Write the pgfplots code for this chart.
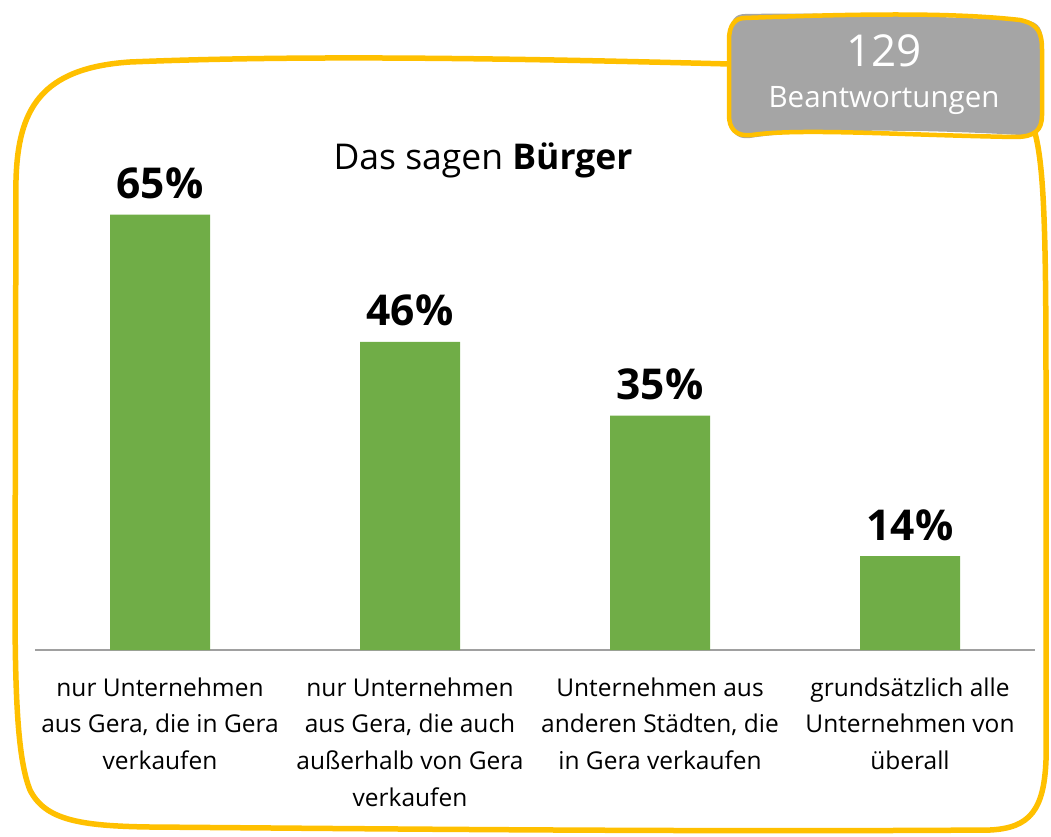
\documentclass[border=0pt]{standalone}
\usepackage{fontspec}
\setmainfont{Open Sans}
\usepackage{pgfplots}
\pgfplotsset{compat=1.18}
\definecolor{bargreen}{HTML}{70AD47}
\definecolor{frameyellow}{HTML}{FFC000}
\definecolor{boxgrey}{HTML}{A5A5A5}
\definecolor{axisgrey}{HTML}{A0A0A0}
\begin{document}
\begin{tikzpicture}[x=1pt,y=1pt]
\path[use as bounding box] (0,0) rectangle (1051,-837);
% hand-drawn frame
\draw[frameyellow, line width=5.5pt, line cap=round, line join=round]
  (730,-64) .. controls (500,-58) and (300,-55) .. (130,-62)
  .. controls (40,-68) and (18,-110) .. (16,-180)
  -- (15,-600) .. controls (15,-700) and (18,-760) .. (30,-790)
  .. controls (45,-820) and (80,-826) .. (150,-827)
  .. controls (400,-829) and (700,-832) .. (990,-830)
  .. controls (1030,-828) and (1044,-810) .. (1046,-760)
  -- (1046,-400) .. controls (1046,-250) and (1045,-170) .. (1035,-133);
% grey box
\fill[boxgrey] (745,-14) .. controls (850,-12) and (950,-18) .. (1025,-20)
  .. controls (1040,-22) and (1043,-30) .. (1043,-45)
  -- (1042,-118) .. controls (1042,-130) and (1035,-136) .. (1020,-135)
  .. controls (900,-128) and (800,-130) .. (750,-138)
  .. controls (735,-140) and (730,-130) .. (730,-118)
  -- (730,-35) .. controls (730,-20) and (735,-14) .. (745,-14) -- cycle;
\draw[frameyellow, line width=4.5pt, line join=round]
  (745,-18) .. controls (850,-14) and (950,-12) .. (1020,-20)
  .. controls (1038,-24) and (1042,-32) .. (1042,-50)
  -- (1042,-115) .. controls (1042,-130) and (1035,-137) .. (1015,-137)
  .. controls (900,-135) and (800,-128) .. (752,-135)
  .. controls (735,-137) and (729,-128) .. (729,-115)
  -- (729,-40) .. controls (729,-25) and (735,-18) .. (745,-18) -- cycle;
\node[white, font=\fontsize{44}{48}\selectfont, anchor=base] at (884,-67) {129};
\node[white, font=\fontsize{29.5}{34}\selectfont, anchor=base] at (884,-108) {Beantwortungen};
\node[font=\fontsize{35.5}{40}\selectfont, anchor=base] at (483,-170) {Das sagen \textbf{Bürger}};
\begin{axis}[
  at={(35pt,-650pt)}, anchor=south west,
  scale only axis, width=1000pt, height=469pt,
  xmin=-0.5, xmax=3.5, ymin=0, ymax=70,
  ybar, bar width=100pt,
  axis x line*=bottom, axis y line=none,
  axis line style={axisgrey, line width=2pt},
  x axis line style={-},
  xtick={0,1,2,3}, major tick length=0pt,
  xticklabels={{nur Unternehmen\\aus Gera, die in Gera\\verkaufen},
               {nur Unternehmen\\aus Gera, die auch\\außerhalb von Gera\\verkaufen},
               {Unternehmen aus\\anderen Städten, die\\in Gera verkaufen},
               {grundsätzlich alle\\Unternehmen von\\überall}},
  xticklabel style={align=center, font=\fontsize{24.5}{36.8}\selectfont, yshift=-24pt},
  /pgf/number format/assume math mode=true,
  nodes near coords={\pgfmathprintnumber{\pgfplotspointmeta}\%},
  nodes near coords style={font=\fontsize{42.5}{48}\selectfont\bfseries, black, yshift=12pt},
  clip=false,
]
\addplot[fill=bargreen, draw=none] coordinates {(0,65) (1,46) (2,35) (3,14)};
\end{axis}
\end{tikzpicture}
\end{document}
